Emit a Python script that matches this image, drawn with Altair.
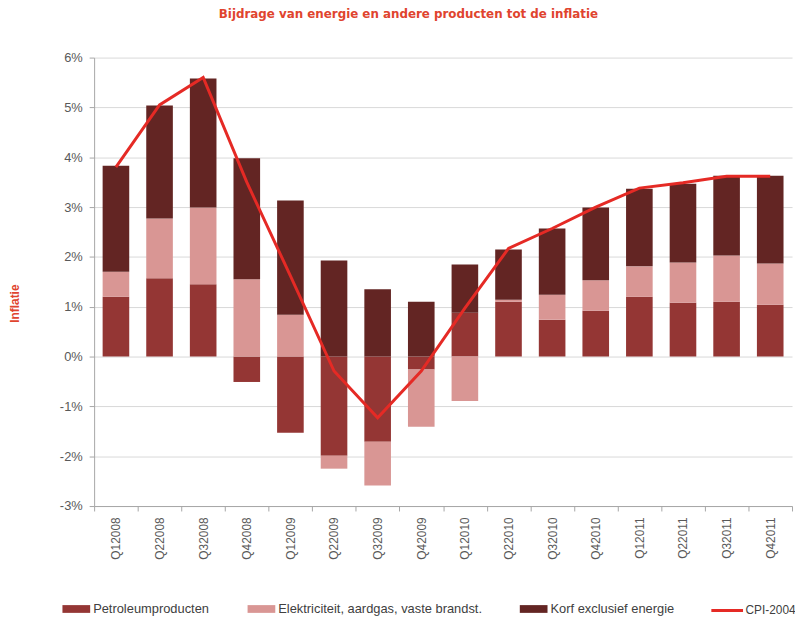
import altair as alt
import pandas as pd

quarters = ["Q12008", "Q22008", "Q32008", "Q42008", "Q12009", "Q22009", "Q32009", "Q42009",
            "Q12010", "Q22010", "Q32010", "Q42010", "Q12011", "Q22011", "Q32011", "Q42011"]
petroleum = [1.20, 1.57, 1.45, -0.51, -1.53, -1.99, -1.71, -0.26,
             0.88, 1.10, 0.74, 0.92, 1.20, 1.08, 1.10, 1.04]
elektriciteit = [0.50, 1.20, 1.54, 1.55, 0.84, -0.26, -0.88, -1.15,
                 -0.89, 0.04, 0.50, 0.61, 0.61, 0.81, 0.93, 0.83]
korf = [2.13, 2.27, 2.59, 2.43, 2.29, 1.93, 1.35, 1.10,
        0.97, 1.01, 1.33, 1.46, 1.56, 1.58, 1.60, 1.76]
cpi = [3.80, 5.05, 5.60, 3.50, 1.62, -0.29, -1.23, -0.29,
       0.97, 2.17, 2.57, 3.00, 3.38, 3.49, 3.62, 3.62]

series_names = ["Petroleumproducten", "Elektriciteit, aardgas, vaste brandst.", "Korf exclusief energie"]
series_colors = ["#943634", "#D99694", "#632523"]

rows = []
for i, q in enumerate(quarters):
    for k, (name, vals) in enumerate(zip(series_names, [petroleum, elektriciteit, korf])):
        rows.append({"kwartaal": q, "reeks": name, "orde": k, "waarde": vals[i] / 100})
bars_df = pd.DataFrame(rows)
line_df = pd.DataFrame({"kwartaal": quarters, "waarde": [v / 100 for v in cpi], "reeks": "CPI-2004"})

FONT = "Liberation Sans"
GREY = "#595959"

x_scale = alt.Scale(domain=quarters, paddingInner=0, paddingOuter=0)
x_enc = alt.X("kwartaal:N", sort=quarters, title=None, scale=x_scale,
              axis=alt.Axis(labelAngle=-90, labelFont=FONT, labelFontSize=12, labelColor=GREY,
                            domainColor="#A6A6A6", tickColor="#A6A6A6", tickSize=5,
                            tickBand="extent", labelPadding=6, grid=False))

y_scale = alt.Scale(domain=[-0.03, 0.06], nice=False)

bars = alt.Chart(bars_df).mark_bar(width=alt.RelativeBandSize(0.61)).encode(
    x=x_enc,
    y=alt.Y("waarde:Q", stack="zero", scale=y_scale,
            axis=alt.Axis(format=".0%", values=[-0.03, -0.02, -0.01, 0, 0.01, 0.02, 0.03, 0.04, 0.05, 0.06],
                          labelExpr="replace(datum.label, '\u2212', '-')",
                          title="Inflatie", titleColor="#E0442E", titleFont=FONT, titleFontSize=12,
                          titleFontWeight="bold", titleAngle=270, titleX=-76, titleY=248,
                          titleAlign="center", titleBaseline="alphabetic",
                          labelFont=FONT, labelFontSize=13, labelColor=GREY, labelPadding=7,
                          domainColor="#A6A6A6", tickColor="#A6A6A6", tickSize=5,
                          gridColor="#D9D9D9", gridWidth=1)),
    color=alt.Color("reeks:N", sort=series_names,
                    scale=alt.Scale(domain=series_names, range=series_colors),
                    legend=alt.Legend(title=None, orient="none", direction="horizontal", columns=3,
                                      legendX=-32, legendY=543, columnPadding=38,
                                      symbolType="M-1,-0.28H1V0.28H-1Z", symbolSize=784,
                                      symbolStrokeWidth=0, symbolOpacity=1, labelLimit=400,
                                      labelFont=FONT, labelFontSize=13, labelColor="#404040",
                                      labelOffset=3)),
    order=alt.Order("orde:Q"),
)

line = alt.Chart(line_df).mark_line(strokeWidth=3).encode(
    x=alt.X("kwartaal:N", sort=quarters, scale=x_scale),
    y=alt.Y("waarde:Q", scale=y_scale),
    stroke=alt.Stroke("reeks:N", scale=alt.Scale(domain=["CPI-2004"], range=["#E52A25"]),
                      legend=alt.Legend(title=None, orient="none", legendX=622, legendY=541,
                                        symbolType="stroke", symbolSize=1024, symbolStrokeWidth=3,
                                        labelFont=FONT, labelFontSize=12, labelColor="#404040",
                                        labelOffset=1)),
)

chart = alt.layer(bars, line).properties(
    width=705, height=453,
    autosize=alt.AutoSizeParams(type="none"),
    padding={"left": 87, "top": 47, "right": 3, "bottom": 110},
    title=alt.TitleParams("Bijdrage van energie en andere producten tot de inflatie",
                          font="DejaVu Sans", fontSize=12, fontWeight="bold", color="#E0442E",
                          anchor="middle", dx=-35, offset=31),
).configure_view(stroke=None).configure_axisX(grid=False)

chart.save("out.html", embed_options={"renderer": "svg", "actions": False})
